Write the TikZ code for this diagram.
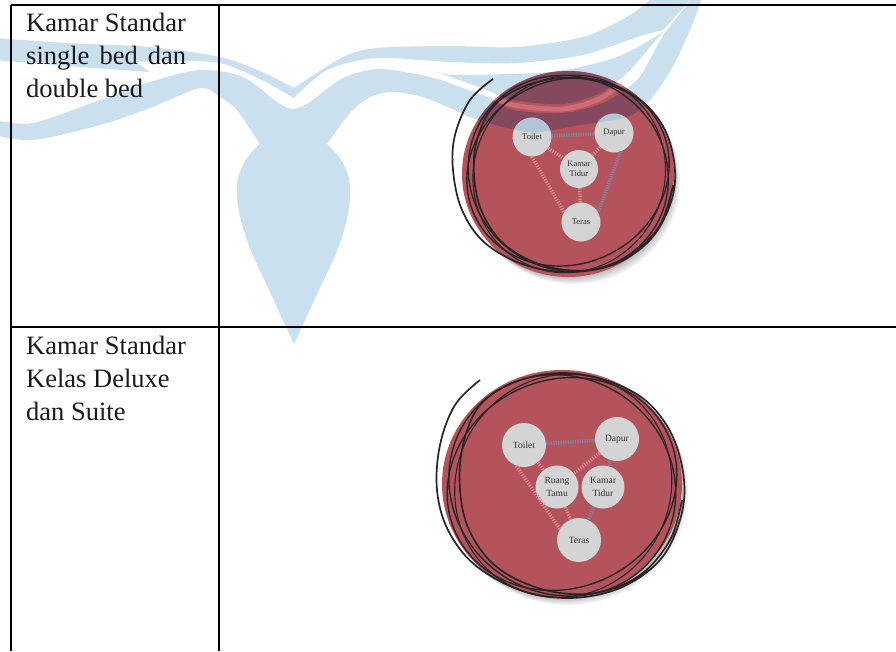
\documentclass[tikz,border=0pt]{standalone}
\usepackage{fontspec}
\setmainfont{Liberation Serif}
\definecolor{wmblue}{HTML}{CBE0EE}
\definecolor{discred}{HTML}{B5535C}
\definecolor{discpurple}{HTML}{84485F}
\definecolor{gappink}{HTML}{CC6C75}
\definecolor{roomgrey}{HTML}{D4D4D4}
\definecolor{linkpink}{HTML}{DE8A90}
\definecolor{linkblue}{HTML}{7E86A6}
\definecolor{ringdark}{HTML}{2A2426}
\definecolor{capblue}{HTML}{8FB8D8}
\definecolor{labelgrey}{HTML}{1A1A1A}
\newcommand{\wmA}{plot[smooth,tension=.5] coordinates {(-5,38)(67,43)(150,47)(220,57)(262,72)(294,88)} -- plot[smooth,tension=.5] coordinates {(294,88)(343,57)(377,48)(450,46)(517,47)(583,37)(627,17)(652,-2)} -- (692,-2) -- plot[smooth,tension=.5] coordinates {(663,30)(637,37)(583,55)(517,63)(450,62)(377,58)(327,70)(294,98)} -- plot[smooth,tension=.5] coordinates {(294,98)(262,80)(220,63)(170,61)(135,62)} -- (150,72) -- plot[smooth,tension=.5] coordinates {(150,72)(67,66)(-5,60)} -- cycle}
\newcommand{\wmC}{(437,72) -- plot[smooth,tension=.5] coordinates {(450,75)(550,72)(617,57)(663,32)} -- plot[smooth,tension=.5] coordinates {(663,32)(650,47)(628,72)(600,93)(563,104)(513,100)(487,90)(437,72)} -- cycle}
\newcommand{\wmB}{plot[smooth,tension=.5] coordinates {(-5,120)(33,123)(100,100)(150,82)(200,70)(243,77)(277,102)(293,109)(310,102)(343,78)(377,69)(410,73)(437,79)(487,97)(513,110)(563,113)(603,103)(637,80)(655,50)(664,34)} -- (692,-2) -- (702,-2) -- plot[smooth,tension=.5] coordinates {(702,-2)(690,30)(672,68)(650,100)(627,117)(580,125)(530,132)(478,120)(450,108)(423,97)(393,92)(370,97)(350,113)(327,144)} -- plot[smooth,tension=.7] coordinates {(327,144)(344,165)(350,195)(341,240)(318,292)(294,344)} -- plot[smooth,tension=.7] coordinates {(294,344)(270,292)(247,240)(237,195)(243,165)(260,144)} -- plot[smooth,tension=.5] coordinates {(260,144)(237,110)(220,97)(200,88)(150,108)(100,125)(33,140)(-5,135)} -- cycle}
\tikzset{
  x=1pt,y=-1pt,
  tablerule/.style={black,line width=2pt},
  rowlabel/.style={anchor=north west,inner sep=0pt,align=left,font=\fontsize{26.5}{33}\selectfont,text=labelgrey},
  room/.style={circle,fill=roomgrey,draw=none,inner sep=0pt,minimum size=#1,align=center,text=black!80},
  roomtop/.style={room=39pt,font=\fontsize{8.5}{10.5}\selectfont},
  roomlow/.style={room=44pt,font=\fontsize{9.5}{13}\selectfont},
  ring/.style={draw=ringdark,line width=1.7pt},
  pinklink/.style={draw=linkpink,line width=3.5pt,dash pattern=on 1.2pt off 1.4pt},
  bluelink/.style={draw=linkblue,line width=3.5pt,dash pattern=on 1.2pt off 1.2pt},
}
\begin{document}
\begin{tikzpicture}
\useasboundingbox (0,0) rectangle (896,651);
\begin{scope}
\clip (0,0) rectangle (896,651);
\fill[white] (0,0) rectangle (896,651);
% watermark
\fill[wmblue] \wmA;
\fill[wmblue] \wmC;
\fill[wmblue] \wmB;
% table
\draw[tablerule] (11,5) -- (896,5);
\draw[tablerule] (11,327) -- (896,327);
\draw[tablerule] (11,5) -- (11,651);
\draw[tablerule] (219,5) -- (219,651);
% ---- upper diagram
\foreach \o in {1,2,3,4,5}{
  \fill[black,opacity=.05] (568+\o*1.2,174+\o*1.4) ellipse [x radius=106,y radius=103];
}
\fill[discred] (568,174) ellipse [x radius=106,y radius=103];
\begin{scope}
\clip (568,174) ellipse [x radius=106,y radius=103];
\fill[discpurple] \wmA;
\fill[discpurple] \wmC;
\fill[discpurple] \wmB;
\draw[gappink,line width=5pt] plot[smooth,tension=.5] coordinates {(487,93)(513,105)(563,109)(601,98)(632,75)};
\end{scope}
\draw[ring] plot[smooth,tension=.6] coordinates {(493,79)(470,100)(455,135)(453,170)(462,210)(485,243)(525,265)(570,272)(615,264)(650,240)(670,205)(675,170)(665,130)(640,100)(600,82)(560,78)(520,88)(492,108)(477,140)(474,175)(482,212)(505,245)(545,266)(590,270)(630,255)(660,225)(673,185)};
\draw[ring,line width=1.4pt,rotate around={25:(568,172)}] (568,172) ellipse [x radius=103,y radius=92];
\draw[ring,line width=1.4pt,rotate around={-35:(568,172)}] (569,173) ellipse [x radius=102,y radius=96];
\draw[ring,line width=1.1pt,rotate around={60:(568,172)}] (567,174) ellipse [x radius=100,y radius=95];
% rooms upper
\node[roomtop] (toiletA) at (532,137) {Toilet};
\node[roomtop] (dapurA) at (614,133) {Dapur};
\node[roomtop,room=38pt] (kamarA) at (579,169) {Kamar\\Tidur};
\node[roomtop] (terasA) at (581,222) {Teras};
\path[pinklink] (toiletA.south) -- (terasA.150);
\path[pinklink] (toiletA) -- (kamarA);
\path[pinklink] (dapurA) -- (kamarA);
\path[pinklink] (kamarA) -- (terasA);
\path[bluelink] (toiletA) -- (dapurA);
\path[bluelink] (dapurA.-70) -- (terasA.30);
\begin{scope}
\clip (toiletA) circle (19.5) (dapurA) circle (19.5);
\fill[capblue,opacity=.5] \wmA;
\fill[capblue,opacity=.5] \wmB;
\end{scope}
% ---- lower diagram
\foreach \o in {1,2,3,4,5}{
  \fill[black,opacity=.05] (562+\o*1.2,484+\o*1.4) ellipse [x radius=120,y radius=114];
}
\fill[discred] (562,484) ellipse [x radius=120,y radius=114];
\draw[ring] plot[smooth,tension=.6] coordinates {(480,380)(455,405)(440,445)(437,490)(448,530)(475,565)(520,590)(570,598)(620,588)(660,560)(680,520)(684,480)(672,435)(645,400)(605,380)(560,373)(515,382)(480,405)(463,445)(460,490)(470,532)(498,568)(545,590)(595,593)(640,575)(670,540)(682,500)};
\draw[ring,line width=1.4pt,rotate around={25:(562,484)}] (562,484) ellipse [x radius=117,y radius=104];
\draw[ring,line width=1.4pt,rotate around={-35:(562,484)}] (563,485) ellipse [x radius=116,y radius=108];
\draw[ring,line width=1.1pt,rotate around={60:(562,484)}] (561,486) ellipse [x radius=113,y radius=107];
% rooms lower
\node[roomlow] (toiletB) at (524,445) {Toilet};
\node[roomlow] (dapurB) at (617,439) {Dapur};
\node[roomlow,room=43pt] (ruangB) at (557,487) {Ruang\\Tamu};
\node[roomlow,room=43pt] (kamarB) at (603,487) {Kamar\\Tidur};
\node[roomlow] (terasB) at (579,540) {Teras};
\path[pinklink] (toiletB.250) -- (terasB.150);
\path[pinklink] (toiletB) -- (ruangB);
\path[pinklink] (dapurB) -- (ruangB);
\path[pinklink] (ruangB) -- (terasB);
\path[bluelink] (toiletB) -- (dapurB);
\path[bluelink] (dapurB) -- (kamarB);
\path[bluelink] (kamarB) -- (terasB);
% labels
\node[rowlabel] (labelA) at (26,13) {Kamar Standar\\\makebox[160pt][s]{single\hfil bed\hfil dan}\\double bed};
\node[rowlabel] (labelB) at (26,335.5) {Kamar Standar\\Kelas Deluxe\\dan Suite};
\end{scope}
\end{tikzpicture}
\end{document}
